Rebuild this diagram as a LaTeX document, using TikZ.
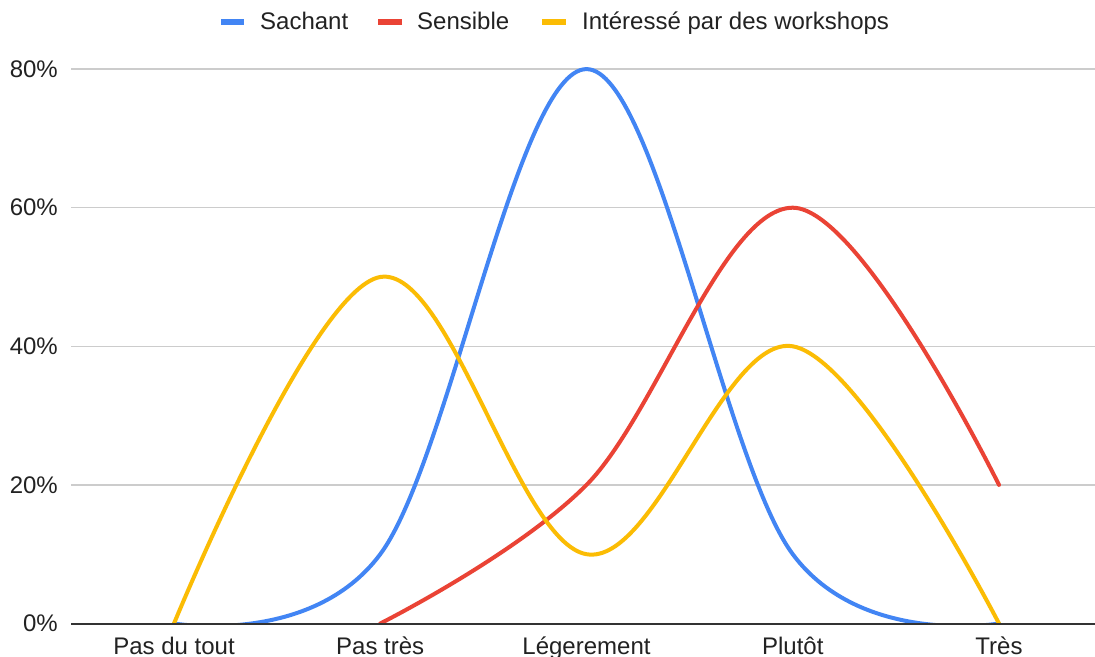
\documentclass[tikz,border=0pt]{standalone}
\usepackage{fontspec}
\setmainfont{Liberation Sans}
\definecolor{gblue}{HTML}{4285F4}
\definecolor{gred}{HTML}{EA4335}
\definecolor{gyellow}{HTML}{FBBC04}
\definecolor{gridc}{HTML}{CCCCCC}
\definecolor{axisc}{HTML}{333333}
\definecolor{txt}{HTML}{222222}
\begin{document}
\begin{tikzpicture}[x=1pt,y=-1pt,
  font=\fontsize{24}{28}\selectfont,
  lbl/.style={text=txt, inner sep=0pt},
  gridline/.style={draw=gridc, line width=1.5pt},
  baseline/.style={draw=axisc, line width=2pt},
  series/.style={line width=4pt, line cap=round, line join=round}]
\useasboundingbox (0,0) rectangle (1095,656);
\fill[white] (0,0) rectangle (1095,656);

% legend
\fill[gblue] (221,19) rectangle (244,25);
\node[lbl, anchor=base west] (lgs) at (260,29.5) {Sachant};
\fill[gred] (378,19) rectangle (402,25);
\node[lbl, anchor=base west] (lgr) at (417,29.5) {Sensible};
\fill[gyellow] (542,19) rectangle (566,25);
\node[lbl, anchor=base west] (lgy) at (582,29.5) {Intéressé par des workshops};

% grid
\foreach \yy/\t in {69.1/80\%, 207.7/60\%, 346.3/40\%, 484.9/20\%}{
  \draw[gridline] (71,\yy) -- (1095,\yy);
  \node[lbl, anchor=east] at (58,\yy) {\t};
}
\node[lbl, anchor=east] (y0) at (58,623.5) {0\%};

% series
\begin{scope}
\clip (0,0) rectangle (1095,623.5);
\draw[series, gblue] (174,623.5) .. controls (174,623.5) and (311.5,646.6) .. (380.25,554.2)
  .. controls (449,461.8) and (517.75,69.1) .. (586.5,69.1)
  .. controls (655.25,69.1) and (724,461.8) .. (792.75,554.2)
  .. controls (861.5,646.6) and (999,623.5) .. (999,623.5);
\draw[series, gred] (380.25,623.5) .. controls (380.25,623.5) and (517.75,554.2) .. (586.5,484.9)
  .. controls (655.25,415.6) and (724,207.7) .. (792.75,207.7)
  .. controls (861.5,207.7) and (999,484.9) .. (999,484.9);
\draw[series, gyellow] (174,623.5) .. controls (174,623.5) and (311.5,288.55) .. (380.25,277)
  .. controls (449,265.45) and (517.75,542.65) .. (586.5,554.2)
  .. controls (655.25,565.75) and (724,334.75) .. (792.75,346.3)
  .. controls (861.5,357.85) and (999,623.5) .. (999,623.5);
\end{scope}

\draw[baseline] (71,623.5) -- (1095,623.5);

% x labels
\node[lbl, anchor=base] (c1) at (174,654.5) {Pas du tout};
\node[lbl, anchor=base] (c2) at (380.25,654.5) {Pas très};
\node[lbl, anchor=base] (c3) at (586.5,654.5) {Légerement};
\node[lbl, anchor=base] (c4) at (792.75,654.5) {Plutôt};
\node[lbl, anchor=base] (c5) at (999,654.5) {Très};
\end{tikzpicture}
\end{document}
